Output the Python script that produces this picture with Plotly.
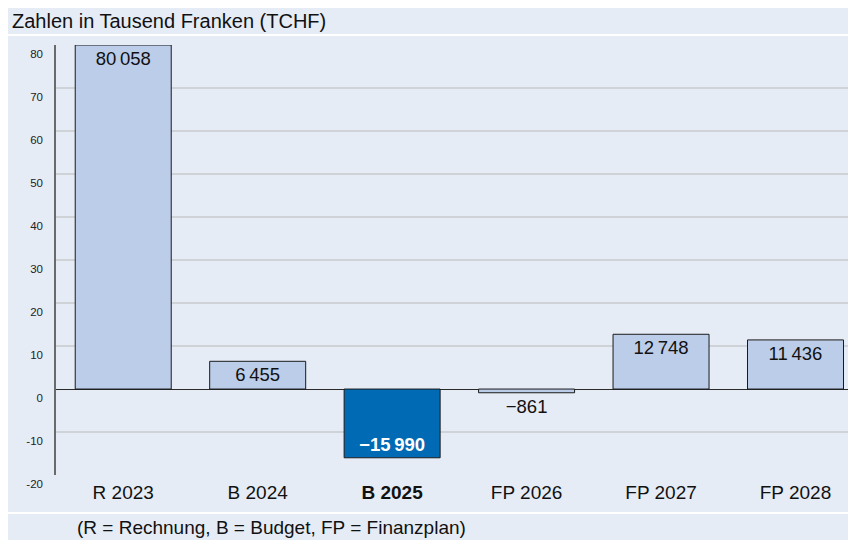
import plotly.graph_objects as go

categories = ["R 2023", "B 2024", "B 2025", "FP 2026", "FP 2027", "FP 2028"]
values_tchf = [80058, 6455, -15990, -861, 12748, 11436]
value_labels = ["80\u2009058", "6\u2009455", "<b>\u221215\u2009990</b>", "\u2212861", "12\u2009748", "11\u2009436"]
highlight = "B 2025"
y_tickvals = [-20, -10, 0, 10, 20, 30, 40, 50, 60, 70, 80]
y_ticktext = ["-20", "-10", "0", "10", "20", "30", "40", "50", "60", "70", "80"]
title_text = "Zahlen in Tausend Franken (TCHF)"
footnote_text = "(R = Rechnung, B = Budget, FP = Finanzplan)"

# page body has an 8px margin; figure coordinates = screen - 8
OFF = 8
W, H = 856 - OFF, 540 - OFF
L, R, T, B = 56 - OFF, 0, 45 - OFF, H - (475 - OFF)
pw, ph = W - L - R, H - T - B

def px_x(p):
    return (p - OFF - L) / pw

def px_y(p):
    return (H - B - (p - OFF)) / ph

LIGHT = "#bccdea"
DARK = "#006ab4"
BG = "#e6ecf6"
FONT = "Liberation Sans, Arial, sans-serif"

y_vals = [v / 1000 for v in values_tchf]
colors = [DARK if c == highlight else LIGHT for c in categories]
text_colors = ["#ffffff" if c == highlight else "#111111" for c in categories]
text_pos = ["outside" if abs(v) < 3 else "inside" for v in y_vals]
tick_text = ["<b>%s</b>" % c if c == highlight else c for c in categories]

fig = go.Figure()
fig.add_trace(go.Bar(
    x=categories, y=y_vals, width=0.714,
    marker=dict(color=colors, line=dict(color="#1a1a1a", width=1)),
    text=value_labels, textposition=text_pos, insidetextanchor="end",
    textfont=dict(color=text_colors, size=18.5, family=FONT),
    constraintext="none", cliponaxis=False, hoverinfo="skip",
))

shapes = [
    dict(type="line", xref="paper", yref="paper", layer="below",
         x0=px_x(0), x1=px_x(900), y0=px_y(35), y1=px_y(35),
         line=dict(color="#ffffff", width=2)),
    dict(type="line", xref="paper", yref="paper", layer="below",
         x0=px_x(0), x1=px_x(900), y0=px_y(513), y1=px_y(513),
         line=dict(color="#ffffff", width=2)),
]

fig.update_layout(
    width=W, height=H,
    margin=dict(l=L, r=R, t=T, b=B, pad=0),
    paper_bgcolor=BG, plot_bgcolor="rgba(0,0,0,0)",
    showlegend=False, shapes=shapes,
    font=dict(family=FONT, color="#111111"),
    annotations=[
        dict(text=title_text, xref="paper", yref="paper", x=px_x(10), y=px_y(21),
             xanchor="left", yanchor="middle", showarrow=False,
             font=dict(size=20, family=FONT, color="#111111")),
        dict(text=footnote_text, xref="paper", yref="paper", x=px_x(75), y=px_y(527),
             xanchor="left", yanchor="middle", showarrow=False,
             font=dict(size=19, family=FONT, color="#111111")),
    ],
)
fig.update_xaxes(
    range=[-0.5, 5.45], tickvals=categories, ticktext=tick_text,
    showgrid=False, showline=False, zeroline=False, ticks="",
    ticklabelstandoff=4,
    tickfont=dict(size=19, family=FONT, color="#111111"),
)
fig.update_yaxes(
    range=[-20, 80.06], tickvals=y_tickvals, ticktext=y_ticktext,
    showgrid=True, gridcolor="#cfd3d8", gridwidth=1.5,
    zeroline=True, zerolinecolor="#2a2a2a", zerolinewidth=1.2,
    showline=True, linecolor="#6a6a6a", linewidth=1.5,
    ticks="", ticklabelstandoff=9, ticklabelshift=9,
    tickfont=dict(size=11.5, family=FONT, color="#222222"),
)

fig.write_html("out.html")
